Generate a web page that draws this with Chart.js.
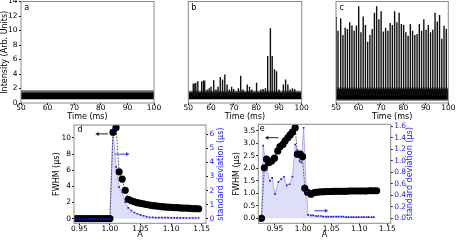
<!DOCTYPE html>
<html>
<head>
<meta charset="utf-8">
<script src="https://cdn.jsdelivr.net/npm/chart.js@4.4.1/dist/chart.umd.min.js"></script>
<style>
html, body { margin: 0; padding: 0; background: #fff; }
#wrap { position: relative; width: 456px; height: 241px; overflow: hidden; }
#wrap canvas { position: absolute; left: 0; top: 0; }
</style>
</head>
<body>
<div id="wrap">
  <canvas id="pa" width="456" height="241"></canvas>
  <canvas id="pb" width="456" height="241"></canvas>
  <canvas id="pc" width="456" height="241"></canvas>
  <canvas id="pd" width="456" height="241"></canvas>
  <canvas id="pe" width="456" height="241"></canvas>
</div>
<script>
// ---- data: time traces (a, b, c) ----
const timeTicks = [50, 60, 70, 80, 90, 100];
const intensityTicks = [0, 2, 4, 6, 8, 10, 12, 14];

// noise band of each trace [low, high], with ragged fringe
const bandA = [0.55, 1.45], fringeA = [0.48, 1.75];
const bandB = [0.55, 1.45], fringeB = [0.48, 1.7];
const bandC = [0.5, 1.9], fringeC = [0.32, 2.15];

const spikeTimeB = [52.2, 52.9, 53.3, 54.2, 55.9, 56.7, 57.2, 58.3, 59.2, 60.0, 61.2, 62.2, 63.1, 64.1, 65.1,
  66.1, 67.1, 68.1, 69.1, 70.0, 72.1, 73.1, 74.1, 76.0, 77.0, 78.0, 80.1, 82.0, 83.0, 84.0,
  85.0, 86.2, 87.0, 88.0, 88.9, 90.0, 91.9, 92.9, 93.9, 94.9, 95.9, 96.9];
const spikeHeightB = [2.65, 2.65, 2.74, 2.97, 2.97, 3.06, 3.06, 1.8, 2.0, 2.2, 3.1, 1.8, 2.2, 3.55, 3.2,
  3.9, 2.5, 1.8, 2.2, 1.9, 2.0, 3.7, 1.8, 2.5, 2.2, 1.8, 2.74, 1.8, 1.9, 2.0,
  6.45, 10.26, 6.45, 4.6, 4.35, 1.8, 2.5, 3.2, 2.5, 1.8, 2.0, 1.9];

const spikeTimeC = [50.1, 50.9, 52.1, 53.1, 54.1, 55.1, 56.1, 57.1, 58.1, 59.1, 60.1, 61.1, 62.1, 63.1, 64.1,
  65.1, 66.1, 67.1, 68.1, 69.1, 70.1, 71.1, 72.1, 73.1, 74.1, 75.1, 76.1, 77.1, 78.1, 79.1,
  80.1, 81.1, 82.1, 83.1, 84.1, 85.1, 86.1, 87.1, 88.1, 89.1, 90.1, 91.1, 92.1, 93.1, 94.1,
  95.1, 96.1, 97.1, 98.1, 99.1];
const spikeHeightC = [11.8, 9.93, 11.66, 9.33, 10.35, 10.17, 11.1, 10.63, 9.93, 10.63,
  13.3, 9.7, 11.9, 10.7, 8.4, 9.33, 10.17, 12.4, 13.3, 11.5,
  12.6, 9.8, 10.35, 9.93, 11.0, 10.7, 12.6, 11.1, 12.4, 10.85,
  10.7, 9.7, 9.24, 10.85, 9.93, 9.33, 9.47, 10.85, 9.93, 11.5,
  10.07, 10.7, 9.7, 10.07, 12.4, 11.2, 12.1, 8.8, 10.6, 10.2];

// ---- data: FWHM / standard deviation vs A (d, e) ----
const aTicks = [0.95, 1.00, 1.05, 1.10, 1.15];

const dA = [0.945, 0.950, 0.955, 0.960, 0.965, 0.970, 0.975, 0.980, 0.985, 0.990, 0.995, 1.000,
  1.005, 1.010, 1.015, 1.020, 1.025, 1.030, 1.035, 1.040, 1.045, 1.050, 1.055, 1.060, 1.065, 1.070,
  1.075, 1.080, 1.085, 1.090, 1.095, 1.100, 1.105, 1.110, 1.115, 1.120, 1.125, 1.130, 1.135, 1.140, 1.145];
const dFwhm = [0, 0, 0, 0, 0, 0, 0, 0, 0, 0, 0, 0,
  10.7, 11.3, 5.8, 4.9, 3.5, 2.4, 2.2, 2.08, 1.98, 1.9, 1.82, 1.75, 1.68, 1.62,
  1.57, 1.52, 1.48, 1.45, 1.42, 1.4, 1.37, 1.35, 1.33, 1.31, 1.29, 1.27, 1.25, 1.24, 1.22];
const dSd = [0, 0, 0, 0, 0, 0, 0, 0, 0, 0, 0, 0,
  6.4, 3.67, 2.25, 1.9, 1.18, 0.78, 0.59, 0.45, 0.36, 0.28, 0.22, 0.15, 0.11, 0.1,
  0.09, 0.09, 0.08, 0.08, 0.08, 0.07, 0.07, 0.07, 0.07, 0.07, 0.06, 0.06, 0.06, 0.06, 0.06];
const dFwhmTicks = [0, 2, 4, 6, 8, 10];
const dSdTicks = [0, 1, 2, 3, 4, 5, 6];

const eA = [0.926, 0.931, 0.935, 0.939, 0.944, 0.949, 0.955, 0.959, 0.964, 0.968,
  0.973, 0.977, 0.981, 0.986, 0.990, 0.995, 0.999, 1.003, 1.008, 1.014,
  1.019, 1.023, 1.028, 1.032, 1.037, 1.041, 1.046, 1.050, 1.055, 1.059,
  1.064, 1.068, 1.073, 1.077, 1.082, 1.086, 1.091, 1.095, 1.100, 1.104,
  1.109, 1.113, 1.118, 1.122, 1.127, 1.131];
const eFwhm = [0, 2.02, 2.36, 2.22, 2.29, 2.4, 2.69, 2.86, 2.95, 3.09,
  3.22, 3.33, 3.44, 3.62, 2.56, 2.56, 2.46, 1.2, 1.04, 0.96,
  1.02, 1.04, 1.05, 1.06, 1.06, 1.07, 1.07, 1.07, 1.08, 1.08,
  1.08, 1.08, 1.08, 1.08, 1.09, 1.09, 1.09, 1.09, 1.09, 1.09,
  1.09, 1.09, 1.1, 1.1, 1.1, 1.1];
const eSdA = [0.926, 0.929, 0.935, 0.941, 0.945, 0.950, 0.956, 0.961, 0.966, 0.971,
  0.976, 0.981, 0.986, 0.990, 0.994, 0.997, 1.001, 1.006, 1.009,
  1.014, 1.018, 1.023, 1.027, 1.032, 1.036, 1.041, 1.045, 1.050, 1.054,
  1.059, 1.063, 1.068, 1.072, 1.077, 1.081, 1.086, 1.090, 1.095, 1.099,
  1.104, 1.108, 1.113, 1.117, 1.122, 1.126];
const eSd = [0, 1.26, 0.84, 0.65, 0.70, 0.42, 0.63, 0.68, 0.72, 0.57,
  0.59, 0.72, 1.28, 1.18, 0.99, 0.97, 1.57, 0.46, 0.06,
  0.05, 0.05, 0.04, 0.04, 0.04, 0.03, 0.03, 0.03, 0.03, 0.03,
  0.03, 0.03, 0.03, 0.03, 0.02, 0.02, 0.02, 0.02, 0.02, 0.02,
  0.02, 0.02, 0.02, 0.02, 0.02, 0.02];
const eFwhmTicks = [0, 0.5, 1.0, 1.5, 2.0, 2.5, 3.0, 3.5];
const eSdTicks = [0, 0.2, 0.4, 0.6, 0.8, 1.0, 1.2, 1.4, 1.6];

// arrows [from A, to A, value]
const dArrowFwhm = [0.997, 0.976, 10.5];
const dArrowSd = [1.008, 1.032, 4.58];
const eArrowFwhm = [0.956, 0.932, 3.22];
const eArrowSd = [1.020, 1.045, 0.13];

// ---- styling ----
const FONT = 'DejaVu Sans';
const BLUE = '#1a1aff';
Chart.defaults.font.family = FONT;
Chart.defaults.font.size = 7.5;
Chart.defaults.color = '#000';
const TITLE_FONT = { size: 8 };

const setTicks = arr => s => { s.ticks = arr.map(v => ({ value: v })); };
const fixW = w => s => { s.width = w; s.paddingTop = 0; s.paddingBottom = 0; };
const fixH = h => s => { s.height = h; s.paddingLeft = 0; s.paddingRight = 0; };

const deco = {
  id: 'deco',
  afterDraw(chart, args, o) {
    const { ctx, chartArea: ca, scales } = chart;
    ctx.save();
    ctx.strokeStyle = '#8a8a8a';
    ctx.lineWidth = 1;
    ctx.strokeRect(ca.left, ca.top, ca.right - ca.left, ca.bottom - ca.top);

    ctx.fillStyle = '#000';
    ctx.font = '8px "' + FONT + '"';
    ctx.textAlign = 'center';
    ctx.textBaseline = 'middle';
    ctx.fillText(o.label, ca.left + o.dx, ca.top + o.dy);

    (o.arrows || []).forEach(a => {
      const x1 = scales.x.getPixelForValue(a.v[0]);
      const x2 = scales.x.getPixelForValue(a.v[1]);
      const y = scales[a.axis].getPixelForValue(a.v[2]);
      const dir = Math.sign(x2 - x1);
      ctx.strokeStyle = a.color;
      ctx.fillStyle = a.color;
      ctx.lineWidth = 1;
      ctx.beginPath();
      ctx.moveTo(x1, y);
      ctx.lineTo(x2 - dir * 3, y);
      ctx.stroke();
      ctx.beginPath();
      ctx.moveTo(x2, y);
      ctx.lineTo(x2 - dir * 3.5, y - 2);
      ctx.lineTo(x2 - dir * 3.5, y + 2);
      ctx.closePath();
      ctx.fill();
    });

    if (o.rightTitle) {
      const s = scales.y2;
      ctx.translate(s.right - 4.5, (ca.top + ca.bottom) / 2);
      ctx.rotate(-Math.PI / 2);
      ctx.fillStyle = BLUE;
      ctx.font = '8px "' + FONT + '"';
      ctx.fillText(o.rightTitle, 0, 0);
    }
    ctx.restore();
  }
};

function timePanel(id, pad, showY, band, fringe, times, heights, label) {
  const spikes = times.map((t, i) => ({ x: t, y: [1, heights[i]] }));
  new Chart(document.getElementById(id), {
    type: 'bar',
    data: {
      datasets: [
        { type: 'bar', data: spikes, backgroundColor: '#111', barThickness: 0.75, order: 1 },
        { type: 'line', data: [{ x: 50, y: band[1] }, { x: 100, y: band[1] }], fill: { value: band[0] },
          backgroundColor: '#000', borderWidth: 0, pointRadius: 0, order: 2 },
        { type: 'line', data: [{ x: 50, y: fringe[1] }, { x: 100, y: fringe[1] }], fill: { value: fringe[0] },
          backgroundColor: '#6a6a6a', borderWidth: 0, pointRadius: 0, order: 3 }
      ]
    },
    options: {
      responsive: false,
      animation: false,
      events: [],
      layout: { padding: pad },
      plugins: { legend: { display: false }, tooltip: { enabled: false }, deco: { label: label, dx: 5.6, dy: 6.3 } },
      scales: {
        x: {
          type: 'linear', min: 50, max: 100, offset: false,
          afterBuildTicks: setTicks(timeTicks),
          afterFit: fixH(19),
          ticks: { padding: -1, autoSkip: false, maxRotation: 0 },
          grid: { drawOnChartArea: false, tickLength: 2, color: '#000', offset: false },
          border: { display: false },
          title: { display: true, text: 'Time (ms)', font: TITLE_FONT, padding: { top: 0, bottom: 0.5 } }
        },
        y: {
          display: showY, min: 0, max: 14,
          afterBuildTicks: setTicks(intensityTicks),
          afterFit: fixW(21),
          ticks: { padding: 1.5, autoSkip: false },
          grid: { drawOnChartArea: false, tickLength: 2, color: '#000' },
          border: { display: false },
          title: { display: true, text: 'Intensity (Arb. Units)', font: TITLE_FONT, padding: 0 }
        }
      }
    },
    plugins: [deco]
  });
}

function widthPanel(id, pad, cfg) {
  const fwhmPts = cfg.a.map((a, i) => ({ x: a, y: cfg.fwhm[i] }));
  const sdPts = cfg.sdA.map((a, i) => ({ x: a, y: cfg.sd[i] }));
  new Chart(document.getElementById(id), {
    type: 'line',
    data: {
      datasets: [
        { data: sdPts, yAxisID: 'y2', showLine: false, pointRadius: 1.2, pointStyle: 'rect',
          pointBackgroundColor: BLUE, pointBorderWidth: 0, order: 1 },
        { data: fwhmPts, yAxisID: 'y', borderColor: '#222', borderWidth: 0.8, borderDash: [1.6, 1.4],
          pointRadius: 3.6, pointBackgroundColor: '#000', pointBorderWidth: 0, order: 2 },
        { data: sdPts, yAxisID: 'y2', fill: 'origin', backgroundColor: 'rgba(0,0,210,0.13)',
          borderColor: 'rgba(90,90,255,0.55)', borderWidth: 0.8, pointRadius: 0, order: 3 }
      ]
    },
    options: {
      responsive: false,
      animation: false,
      events: [],
      layout: { padding: pad },
      plugins: {
        legend: { display: false }, tooltip: { enabled: false },
        deco: { label: cfg.label, dx: cfg.ldx, dy: cfg.ldy, rightTitle: 'standard deviation (μs)',
          arrows: [{ v: cfg.arrowFwhm, axis: 'y', color: '#222' }, { v: cfg.arrowSd, axis: 'y2', color: '#3a3aff' }] }
      },
      scales: {
        x: {
          type: 'linear', min: cfg.xr[0], max: cfg.xr[1],
          afterBuildTicks: setTicks(aTicks),
          afterFit: fixH(16.7),
          ticks: { padding: -1, autoSkip: false, maxRotation: 0, callback: v => Number(v).toFixed(2) },
          grid: { drawOnChartArea: false, tickLength: 2, color: '#000' },
          border: { display: false },
          title: { display: true, text: 'A', font: TITLE_FONT, padding: 0 }
        },
        y: {
          position: 'left', min: cfg.yr[0], max: cfg.yr[1],
          afterBuildTicks: setTicks(cfg.fwhmTicks),
          afterFit: fixW(cfg.yw),
          ticks: { padding: 1, autoSkip: false, callback: cfg.yFmt },
          grid: { drawOnChartArea: false, tickLength: 2, color: '#000' },
          border: { display: false },
          title: { display: true, text: 'FWHM (μs)', font: TITLE_FONT, padding: 0 }
        },
        y2: {
          position: 'right', min: cfg.y2r[0], max: cfg.y2r[1],
          afterBuildTicks: setTicks(cfg.sdTicks),
          afterFit: fixW(cfg.y2w),
          ticks: { padding: 1.5, autoSkip: false, color: BLUE, callback: cfg.y2Fmt },
          grid: { drawOnChartArea: false, tickLength: 2, color: '#000' },
          border: { display: false }
        }
      }
    },
    plugins: [deco]
  });
}

timePanel('pa', { left: 0, right: 302, top: 1.5, bottom: 119 }, true, bandA, fringeA, [], [], 'a');
timePanel('pb', { left: 167.3, right: 154.3, top: 1.5, bottom: 119 }, false, bandB, fringeB, spikeTimeB, spikeHeightB, 'b');
timePanel('pc', { left: 315, right: 7.7, top: 1.5, bottom: 119 }, false, bandC, fringeC, spikeTimeC, spikeHeightC, 'c');

widthPanel('pd', { left: 52.5, right: 231, top: 125, bottom: 1 }, {
  a: dA, fwhm: dFwhm, sdA: dA, sd: dSd, label: 'd', ldx: 6, ldy: 5,
  xr: [0.9413, 1.157], yr: [-0.58, 11.6], y2r: [-0.316, 6.64],
  fwhmTicks: dFwhmTicks, sdTicks: dSdTicks, yw: 21.5, y2w: 19,
  yFmt: v => String(v), y2Fmt: v => String(v),
  arrowFwhm: dArrowFwhm, arrowSd: dArrowSd
});
widthPanel('pe', { left: 231.8, right: 41.8, top: 124.3, bottom: 1 }, {
  a: eA, fwhm: eFwhm, sdA: eSdA, sd: eSd, label: 'e', ldx: 4, ldy: 4.7,
  xr: [0.9203, 1.156], yr: [-0.2, 3.755], y2r: [-0.087, 1.63],
  fwhmTicks: eFwhmTicks, sdTicks: eSdTicks, yw: 26.5, y2w: 23.5,
  yFmt: v => Number(v).toFixed(1), y2Fmt: v => Number(v).toFixed(1),
  arrowFwhm: eArrowFwhm, arrowSd: eArrowSd
});
</script>
</body>
</html>
